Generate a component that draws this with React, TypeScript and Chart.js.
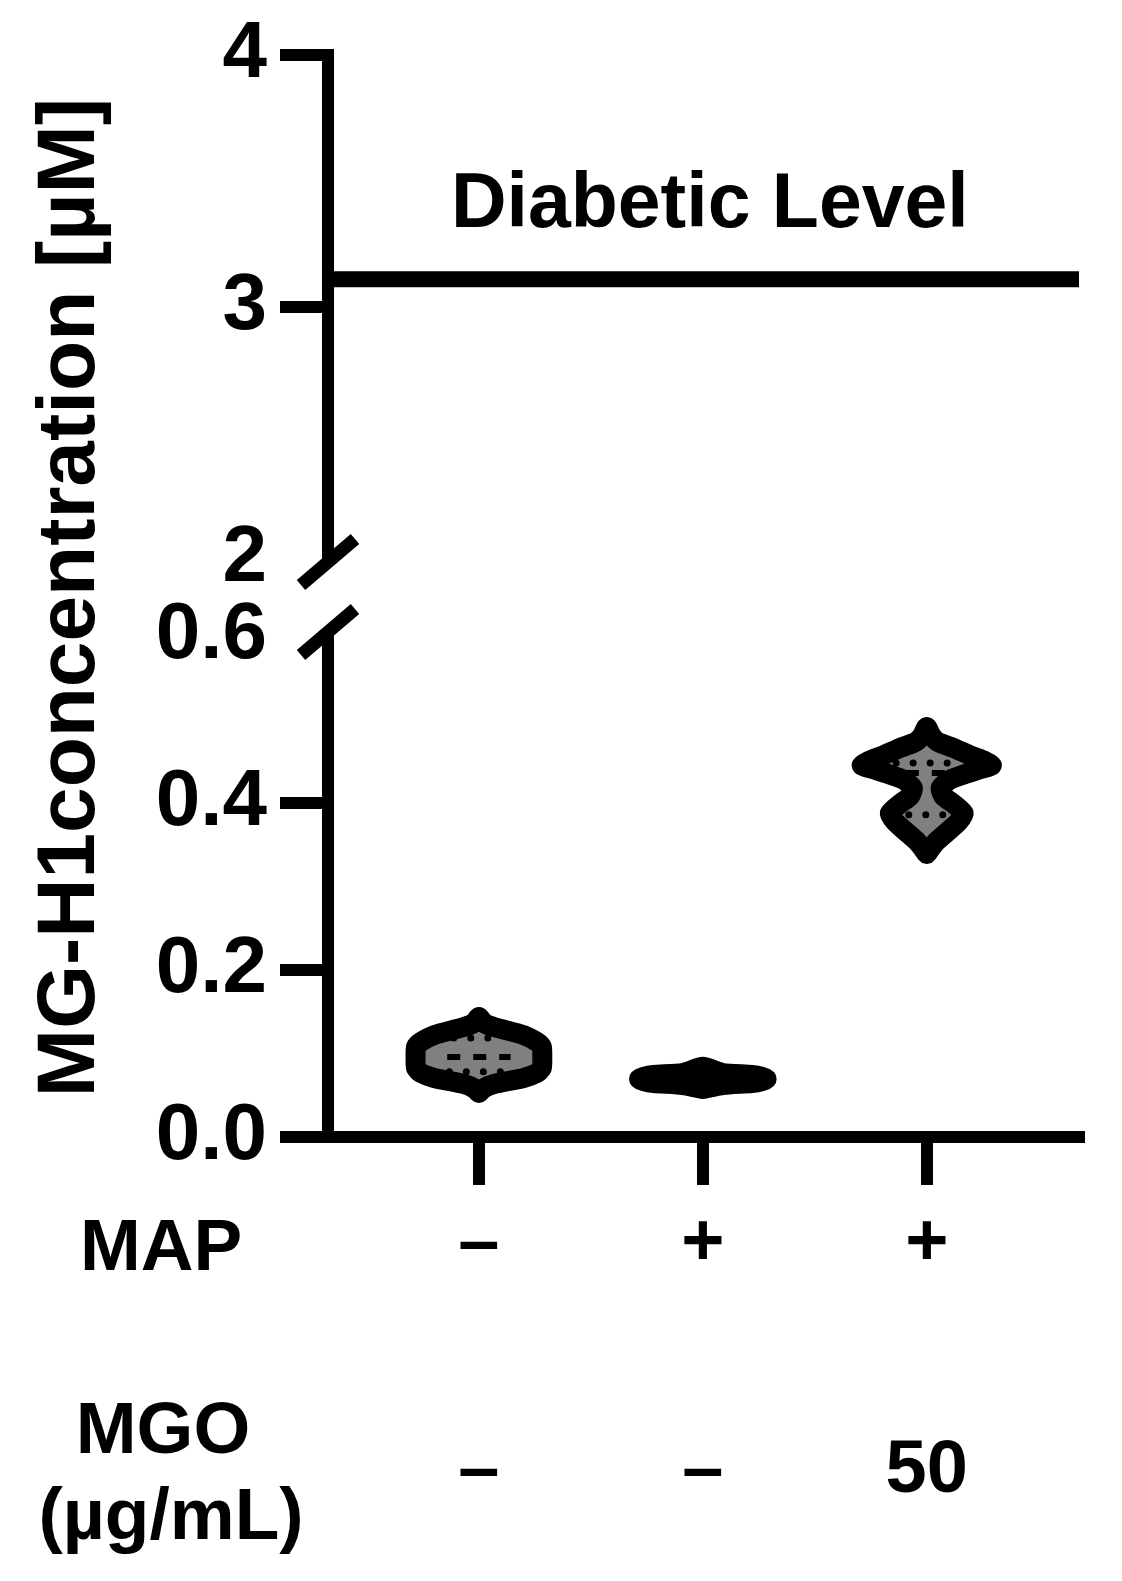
import { useEffect, useRef } from 'react';
import { Chart, registerables } from 'chart.js';

Chart.register(...registerables);

// ---------- data ----------
const GROUP_X = [1, 2, 3];
const MAP_LABELS = ['–', '+', '+'];
const MGO_LABELS = ['–', '–', '50'];
const ROW_TITLES = ['MAP', 'MGO', '(µg/mL)'];
const Y_TITLE = 'MG-H1concentration [µM]';
const Y_TOP_TICKS = [2, 3, 4];
const Y_BOTTOM_TICKS = [0, 0.2, 0.4, 0.6];
const X_MIN = 0.326;
const X_MAX = 3.68;
const DIABETIC_LEVEL = 3.11;
const DIABETIC_LABEL = 'Diabetic Level';

// violin profiles: concentration levels (µM) and half-widths (density, x units)
const V1_LEVELS = [0.0527, 0.058, 0.0635, 0.0707, 0.0766, 0.0826, 0.0958, 0.1078, 0.1138, 0.122, 0.1317, 0.137, 0.1437];
const V1_WIDTHS = [0, 0.02, 0.067, 0.2, 0.259, 0.281, 0.283, 0.281, 0.259, 0.2, 0.067, 0.02, 0];
const V2_LEVELS = [0.0575, 0.0623, 0.0647, 0.067, 0.0695, 0.072, 0.0743, 0.0766, 0.084];
const V2_WIDTHS = [0, 0.09, 0.22, 0.265, 0.285, 0.265, 0.22, 0.09, 0];
const V3_LEVELS = [0.339, 0.353, 0.365, 0.377, 0.388, 0.399, 0.408, 0.418, 0.428, 0.435, 0.441, 0.445, 0.45, 0.457, 0.466, 0.473, 0.481, 0.491];
const V3_WIDTHS = [0, 0.04, 0.09, 0.14, 0.165, 0.12, 0.075, 0.062, 0.105, 0.175, 0.245, 0.29, 0.262, 0.195, 0.12, 0.05, 0.02, 0];
const MEDIANS = [0.0958, 0.0695, 0.436];
const Q1 = [0.078, 0.067, 0.386];
const Q3 = [0.1186, 0.072, 0.448];

const PROFILES = [
  { levels: V1_LEVELS, widths: V1_WIDTHS },
  { levels: V2_LEVELS, widths: V2_WIDTHS },
  { levels: V3_LEVELS, widths: V3_WIDTHS },
];

// ---------- style ----------
const FONT = '"Liberation Sans", Arial, Helvetica, sans-serif';
const BLACK = '#000000';
const VIOLIN_FILL = '#808080';
const INNER_FRACTION = 0.5;
const AXIS_W = 12;

function outline(cx: number, levels: number[], widths: number[]) {
  const right = levels.map((v, i) => ({ x: cx + widths[i], y: v }));
  const left = levels.map((v, i) => ({ x: cx - widths[i], y: v })).reverse();
  return right.concat(left.slice(1));
}

function widthAt(levels: number[], widths: number[], v: number) {
  for (let i = 0; i < levels.length - 1; i++) {
    if (v >= levels[i] && v <= levels[i + 1]) {
      const t = (v - levels[i]) / (levels[i + 1] - levels[i]);
      return widths[i] + t * (widths[i + 1] - widths[i]);
    }
  }
  return 0;
}

function innerLine(gi: number, v: number, dash: number[], width: number, cap: string) {
  const p = PROFILES[gi];
  const w = widthAt(p.levels, p.widths, v) * INNER_FRACTION;
  return {
    type: 'line',
    data: [
      { x: GROUP_X[gi] - w, y: v },
      { x: GROUP_X[gi] + w, y: v },
    ],
    xAxisID: 'x',
    yAxisID: 'yBot',
    borderColor: BLACK,
    borderWidth: width,
    borderDash: dash,
    borderCapStyle: cap,
    pointRadius: 0,
    fill: false,
    order: 1,
  };
}

const overlayPlugin = {
  id: 'overlay',
  afterDraw(chart: any) {
    const { ctx, scales } = chart;
    const top = scales.yTop;
    const bot = scales.yBot;
    const xs = scales.x;
    ctx.save();
    ctx.strokeStyle = BLACK;
    ctx.lineWidth = 13;
    ctx.lineCap = 'butt';
    const slash = (cx: number, cy: number) => {
      ctx.beginPath();
      ctx.moveTo(cx - 27, cy + 23);
      ctx.lineTo(cx + 27, cy - 23);
      ctx.stroke();
    };
    slash(top.right, top.bottom + 3);
    slash(bot.right, bot.top - 4);

    ctx.fillStyle = BLACK;
    ctx.textAlign = 'center';
    ctx.textBaseline = 'alphabetic';
    ctx.font = `bold 77px ${FONT}`;
    ctx.fillText(DIABETIC_LABEL, xs.getPixelForValue(GROUP_X[1]) + 7, top.getPixelForValue(DIABETIC_LEVEL) - 52);

    ctx.font = `bold 73px ${FONT}`;
    ctx.fillText(ROW_TITLES[0], 161, xs.top + 133);
    ctx.fillText(ROW_TITLES[1], 163, xs.top + 316);
    ctx.fillText(ROW_TITLES[2], 171, xs.top + 402);
    ctx.restore();
  },
};

function buildConfig(): any {
  const violins = PROFILES.map((p, gi) => ({
    type: 'line',
    data: outline(GROUP_X[gi], p.levels, p.widths),
    xAxisID: 'x',
    yAxisID: 'yBot',
    borderColor: BLACK,
    borderWidth: 20,
    backgroundColor: VIOLIN_FILL,
    fill: 'shape',
    tension: 0.2,
    borderJoinStyle: 'round',
    borderCapStyle: 'round',
    pointRadius: 0,
    order: 2,
  }));
  const inner: any[] = [];
  GROUP_X.forEach((_, gi) => {
    inner.push(innerLine(gi, MEDIANS[gi], [13, 13], 6, 'butt'));
    inner.push(innerLine(gi, Q1[gi], [0, 17], 7, 'round'));
    inner.push(innerLine(gi, Q3[gi], [0, 17], 7, 'round'));
  });
  const diabetic = {
    type: 'line',
    data: [
      { x: X_MIN, y: DIABETIC_LEVEL },
      { x: X_MAX, y: DIABETIC_LEVEL },
    ],
    xAxisID: 'x',
    yAxisID: 'yTop',
    borderColor: BLACK,
    borderWidth: 16,
    pointRadius: 0,
    fill: false,
    order: 1,
  };

  const tickFont = { family: FONT, size: 80, weight: 'bold', lineHeight: 1 };
  const yGrid = (hidden: number) => ({
    display: true,
    drawOnChartArea: false,
    drawTicks: true,
    tickLength: 48,
    lineWidth: AXIS_W,
    color: BLACK,
    tickColor: (c: any) => (c.tick && Math.abs(c.tick.value - hidden) < 1e-9 ? 'rgba(0,0,0,0)' : BLACK),
  });
  const fixWidth = (s: any) => {
    s.width = 328;
  };

  return {
    type: 'line',
    data: { datasets: [...inner, diabetic, ...violins] },
    plugins: [overlayPlugin],
    options: {
      responsive: false,
      animation: false,
      devicePixelRatio: 1,
      events: [],
      layout: { padding: { top: 55, right: 43, bottom: 0, left: 0 } },
      plugins: { legend: { display: false }, tooltip: { enabled: false } },
      scales: {
        x: {
          type: 'linear',
          position: 'bottom',
          min: X_MIN,
          max: X_MAX,
          afterBuildTicks: (s: any) => {
            s.ticks = GROUP_X.map((v) => ({ value: v }));
          },
          afterFit: (s: any) => {
            s.height = 444;
          },
          grid: {
            display: true,
            drawOnChartArea: false,
            drawTicks: true,
            tickLength: 48,
            lineWidth: AXIS_W,
            color: BLACK,
          },
          border: { display: true, width: AXIS_W, color: BLACK },
          ticks: {
            autoSkip: false,
            maxRotation: 0,
            minRotation: 0,
            padding: -53.5,
            color: BLACK,
            font: { family: FONT, size: 74, weight: 'bold', lineHeight: 227 / 74 },
            callback: (_v: any, i: number) => [MAP_LABELS[i], MGO_LABELS[i]],
          },
        },
        yTop: {
          type: 'linear',
          axis: 'y',
          position: 'left',
          stack: 'y',
          stackWeight: 504,
          weight: 3,
          min: Y_TOP_TICKS[0],
          max: Y_TOP_TICKS[Y_TOP_TICKS.length - 1],
          afterBuildTicks: (s: any) => {
            s.ticks = Y_TOP_TICKS.map((v) => ({ value: v }));
          },
          afterFit: fixWidth,
          grid: yGrid(Y_TOP_TICKS[0]),
          border: { display: true, width: AXIS_W, color: BLACK },
          ticks: {
            padding: 13,
            color: BLACK,
            font: tickFont,
            callback: (v: any) => String(v),
          },
        },
        yGap: {
          type: 'linear',
          axis: 'y',
          position: 'left',
          stack: 'y',
          stackWeight: 77,
          weight: 2,
          afterFit: fixWidth,
          grid: { display: false, drawTicks: false },
          border: { display: false },
          ticks: { display: false },
          title: {
            display: true,
            text: Y_TITLE,
            color: BLACK,
            font: { family: FONT, size: 82, weight: 'bold', lineHeight: 1.2 },
            padding: { top: 22, bottom: 0 },
          },
        },
        yBot: {
          type: 'linear',
          axis: 'y',
          position: 'left',
          stack: 'y',
          stackWeight: 501,
          weight: 1,
          min: Y_BOTTOM_TICKS[0],
          max: Y_BOTTOM_TICKS[Y_BOTTOM_TICKS.length - 1],
          afterBuildTicks: (s: any) => {
            s.ticks = Y_BOTTOM_TICKS.map((v) => ({ value: v }));
          },
          afterFit: fixWidth,
          grid: yGrid(Y_BOTTOM_TICKS[Y_BOTTOM_TICKS.length - 1]),
          border: { display: true, width: AXIS_W, color: BLACK },
          ticks: {
            padding: 13,
            color: BLACK,
            font: tickFont,
            callback: (v: any) => Number(v).toFixed(1),
          },
        },
      },
    },
  };
}

export default function App() {
  const ref = useRef<HTMLCanvasElement | null>(null);
  useEffect(() => {
    document.body.style.margin = '0';
    const canvas = ref.current;
    if (!canvas) return;
    const chart = new Chart(canvas, buildConfig());
    return () => chart.destroy();
  }, []);
  return (
    <canvas
      ref={ref}
      width={1122}
      height={1581}
      style={{ display: 'block', width: '1122px', height: '1581px' }}
    />
  );
}
